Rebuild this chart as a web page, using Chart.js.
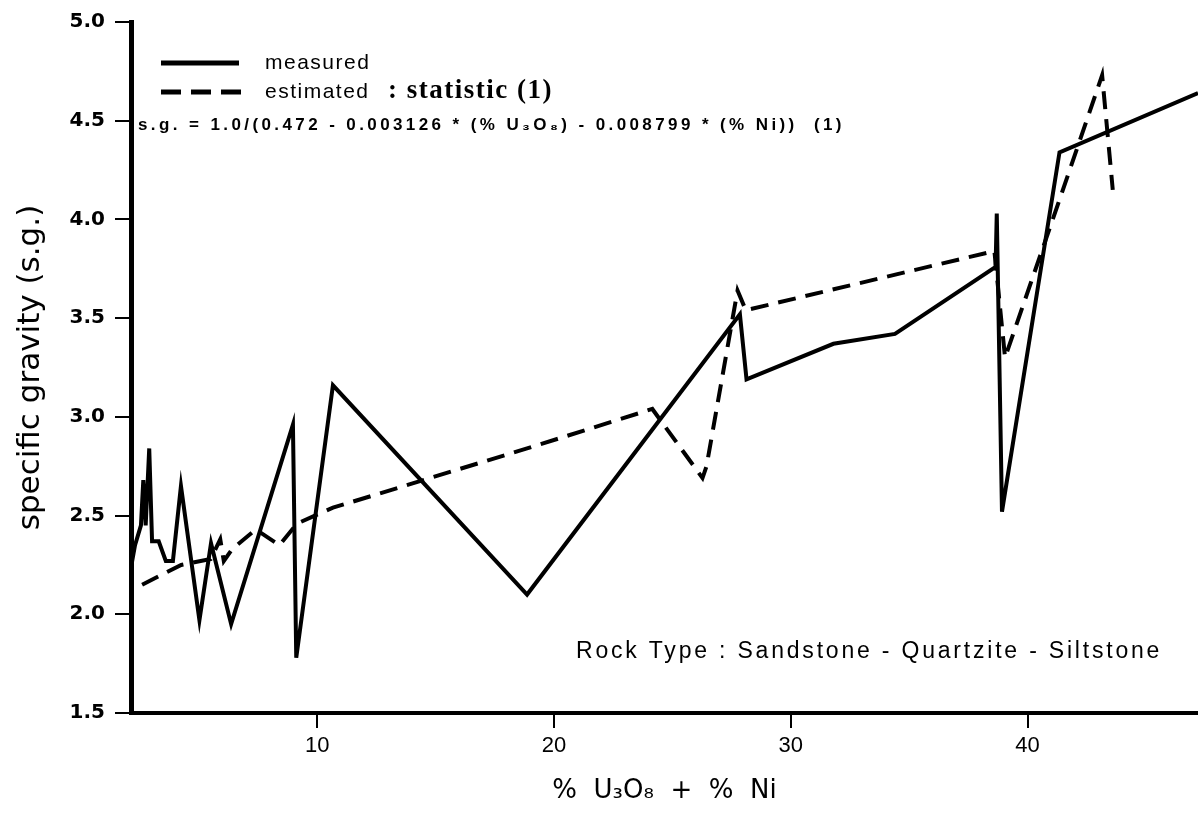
<!DOCTYPE html>
<html>
<head>
<meta charset="utf-8">
<script src="https://cdn.jsdelivr.net/npm/chart.js@4.4.0/dist/chart.umd.min.js"></script>
<style>
  html, body { margin: 0; padding: 0; background: #fff; }
</style>
</head>
<body>
<canvas id="myChart" width="1198" height="813"></canvas>
<script>
// values
const measuredX = [2.15, 2.3, 2.55, 2.65, 2.75, 2.9, 3.02, 3.3, 3.6, 3.9, 4.24, 5.02, 5.51, 6.36, 8.97, 9.11, 10.66, 18.86, 27.85, 28.13, 31.8, 34.4, 38.65, 38.7, 38.92, 41.35, 47.2];
const measuredY = [2.25, 2.35, 2.45, 2.68, 2.45, 2.84, 2.37, 2.37, 2.27, 2.27, 2.65, 1.97, 2.36, 1.95, 2.96, 1.78, 3.16, 2.10, 3.52, 3.19, 3.37, 3.42, 3.76, 4.03, 2.52, 4.34, 4.64];

const estimatedX = [2.6, 4.25, 5.5, 5.9, 6.05, 6.4, 7.4, 8.4, 9.15, 10.66, 18.86, 24.15, 26.27, 26.44, 27.75, 28.1, 38.6, 39.05, 41.35, 43.15, 43.6];
const estimatedY = [2.15, 2.25, 2.28, 2.38, 2.27, 2.33, 2.43, 2.35, 2.46, 2.54, 2.84, 3.04, 2.69, 2.75, 3.64, 3.54, 3.84, 3.30, 4.10, 4.73, 4.15];

const xTicks = [10, 20, 30, 40];
const yTicks = [1.5, 2.0, 2.5, 3.0, 3.5, 4.0, 4.5, 5.0];

const toPoints = (xs, ys) => xs.map((x, i) => ({ x: x, y: ys[i] }));

// legend + notes drawn inside the plot
const notes = {
  id: 'notes',
  afterDraw(chart) {
    const ctx = chart.ctx;
    ctx.save();
    ctx.fillStyle = '#000';
    ctx.strokeStyle = '#000';
    ctx.textBaseline = 'middle';

    ctx.lineWidth = 5;
    ctx.beginPath(); ctx.moveTo(161, 63); ctx.lineTo(239, 63); ctx.stroke();
    ctx.setLineDash([20, 10]);
    ctx.beginPath(); ctx.moveTo(161, 92); ctx.lineTo(241, 92); ctx.stroke();
    ctx.setLineDash([]);

    ctx.font = '21px "Liberation Sans"';
    ctx.letterSpacing = '1.5px';
    ctx.fillText('measured', 265, 63);
    ctx.fillText('estimated', 265, 92);
    ctx.letterSpacing = '1.5px';
    ctx.font = 'bold 27px "Liberation Serif"';
    ctx.fillText(': statistic (1)', 388, 91);

    ctx.font = 'bold 17px "Liberation Sans"';
    ctx.letterSpacing = '3.4px';
    ctx.fillText('s.g. = 1.0/(0.472 - 0.003126 * (% U\u2083O\u2088) - 0.008799 * (% Ni))  (1)', 138, 125);

    ctx.font = '23px "Liberation Sans"';
    ctx.letterSpacing = '2.8px';
    ctx.fillText('Rock Type : Sandstone - Quartzite - Siltstone', 576, 652);
    ctx.restore();
  }
};

const ctx = document.getElementById('myChart');

new Chart(ctx, {
  type: 'scatter',
  data: {
    datasets: [{
      label: 'measured',
      data: toPoints(measuredX, measuredY),
      showLine: true,
      borderColor: '#000',
      borderWidth: 4,
      pointRadius: 0,
      tension: 0
    },
    {
      label: 'estimated : statistic (1)',
      data: toPoints(estimatedX, estimatedY),
      showLine: true,
      borderColor: '#000',
      borderWidth: 4,
      borderDash: [18, 10],
      pointRadius: 0,
      tension: 0
    }]
  },
  options: {
    responsive: false,
    animation: false,
    layout: {
      padding: { top: 20, right: 0, bottom: 0, left: 0 }
    },
    scales: {
      x: {
        type: 'linear',
        min: 2.13,
        max: 47.2,
        afterFit: s => { s.height = 100; },
        afterBuildTicks: s => { s.ticks = xTicks.map(v => ({ value: v })); },
        border: { display: true, color: '#000', width: 4 },
        grid: { drawOnChartArea: false, drawTicks: true, tickLength: 15, color: '#000', lineWidth: 2 },
        ticks: {
          color: '#000',
          padding: 5,
          font: { family: 'Liberation Sans', size: 22 }
        },
        title: {
          display: true,
          text: '%  U\u2083O\u2088  +  %  Ni',
          color: '#000',
          padding: { top: 0, bottom: 6 },
          font: { family: 'DejaVu Sans', size: 26 }
        }
      },
      y: {
        min: 1.5,
        max: 5.0,
        afterFit: s => { s.width = 131; },
        afterBuildTicks: s => { s.ticks = yTicks.map(v => ({ value: v })); },
        border: { display: true, color: '#000', width: 5 },
        grid: { drawOnChartArea: false, drawTicks: true, tickLength: 16, color: '#000', lineWidth: 2 },
        ticks: {
          color: '#000',
          padding: 10,
          font: { family: 'DejaVu Sans', size: 20, weight: 'bold' },
          callback: v => Number(v).toFixed(1)
        },
        title: {
          display: true,
          text: 'specific gravity (s.g.)',
          color: '#000',
          padding: { top: 12, bottom: 0 },
          font: { family: 'DejaVu Sans', size: 31 }
        }
      }
    },
    plugins: {
      legend: { display: false },
      tooltip: { enabled: false }
    }
  },
  plugins: [notes]
});
</script>
</body>
</html>
